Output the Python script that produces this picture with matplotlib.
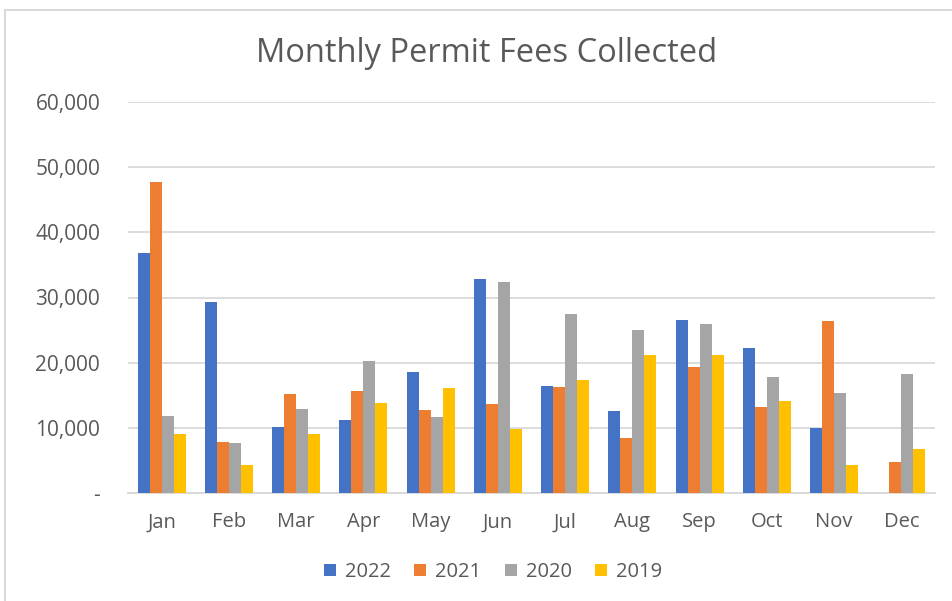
import matplotlib
matplotlib.use("Agg")
import matplotlib.pyplot as plt
import numpy as np
from matplotlib.ticker import FuncFormatter
from matplotlib.patches import Rectangle

months = ["Jan", "Feb", "Mar", "Apr", "May", "Jun", "Jul", "Aug", "Sep", "Oct", "Nov", "Dec"]
years = ["2022", "2021", "2020", "2019"]
v2022 = [36870, 29340, 10190, 11160, 18640, 32820, 16490, 12650, 26570, 22320, 10040, 0]
v2021 = [47670, 7890, 15210, 15720, 12800, 13720, 16330, 8400, 19410, 13160, 26420, 4760]
v2020 = [11880, 7680, 12950, 20330, 11670, 32310, 27500, 24940, 26010, 17770, 15410, 18330]
v2019 = [9110, 4350, 9110, 13880, 16130, 9830, 17360, 21100, 21100, 14080, 4350, 6760]
colors = ["#4472C4", "#ED7D31", "#A5A5A5", "#FFC000"]

plt.rcParams['font.family'] = ['Open Sans', 'DejaVu Sans']

fig = plt.figure(figsize=(9.53, 6.01), dpi=100)
ax = fig.add_axes([128/953, 1-493/601, (935-128)/953, (493-102)/601])

x = np.arange(len(months))
w = 0.178
series = [v2022, v2021, v2020, v2019]
for i, (vals, c, lab) in enumerate(zip(series, colors, years)):
    ax.bar(x + (i - 1.5) * w, vals, width=w, color=c, label=lab, zorder=3)

ax.set_xlim(-0.5, 11.5)
ax.set_ylim(0, 60000)
ax.set_yticks(np.arange(0, 60001, 10000))
ax.yaxis.set_major_formatter(FuncFormatter(lambda v, p: "-" if v == 0 else f"{int(v):,}"))
ax.set_xticks(x)
ax.set_xticklabels(months)
ax.grid(axis='y', color='#D9D9D9', linewidth=1.3, zorder=0)
for s in ["top", "right", "left"]:
    ax.spines[s].set_visible(False)
ax.spines["bottom"].set_color('#D9D9D9')
ax.spines["bottom"].set_linewidth(1.3)
ax.tick_params(axis='y', length=0, labelsize=15, colors='#595959', pad=20)
ax.tick_params(axis='x', length=0, labelsize=14.5, colors='#595959', pad=14)

fig.text(487/953, 1-53/601, "Monthly Permit Fees Collected", ha='center', va='center',
         fontsize=23.5, color='#595959')

leg = fig.legend(loc='center', bbox_to_anchor=(493/953, 1-572/601), ncol=4, frameon=False,
                 fontsize=14.5, handlelength=0.6, handleheight=0.6, handletextpad=0.45,
                 columnspacing=1.15, labelcolor='#595959')

fig.patches.append(Rectangle((5/953, -0.01), 1.0, 1-10/601 + 0.01, transform=fig.transFigure,
                             fill=False, edgecolor='#D9D9D9', linewidth=1.5))

fig.savefig("out.png", dpi=100)
